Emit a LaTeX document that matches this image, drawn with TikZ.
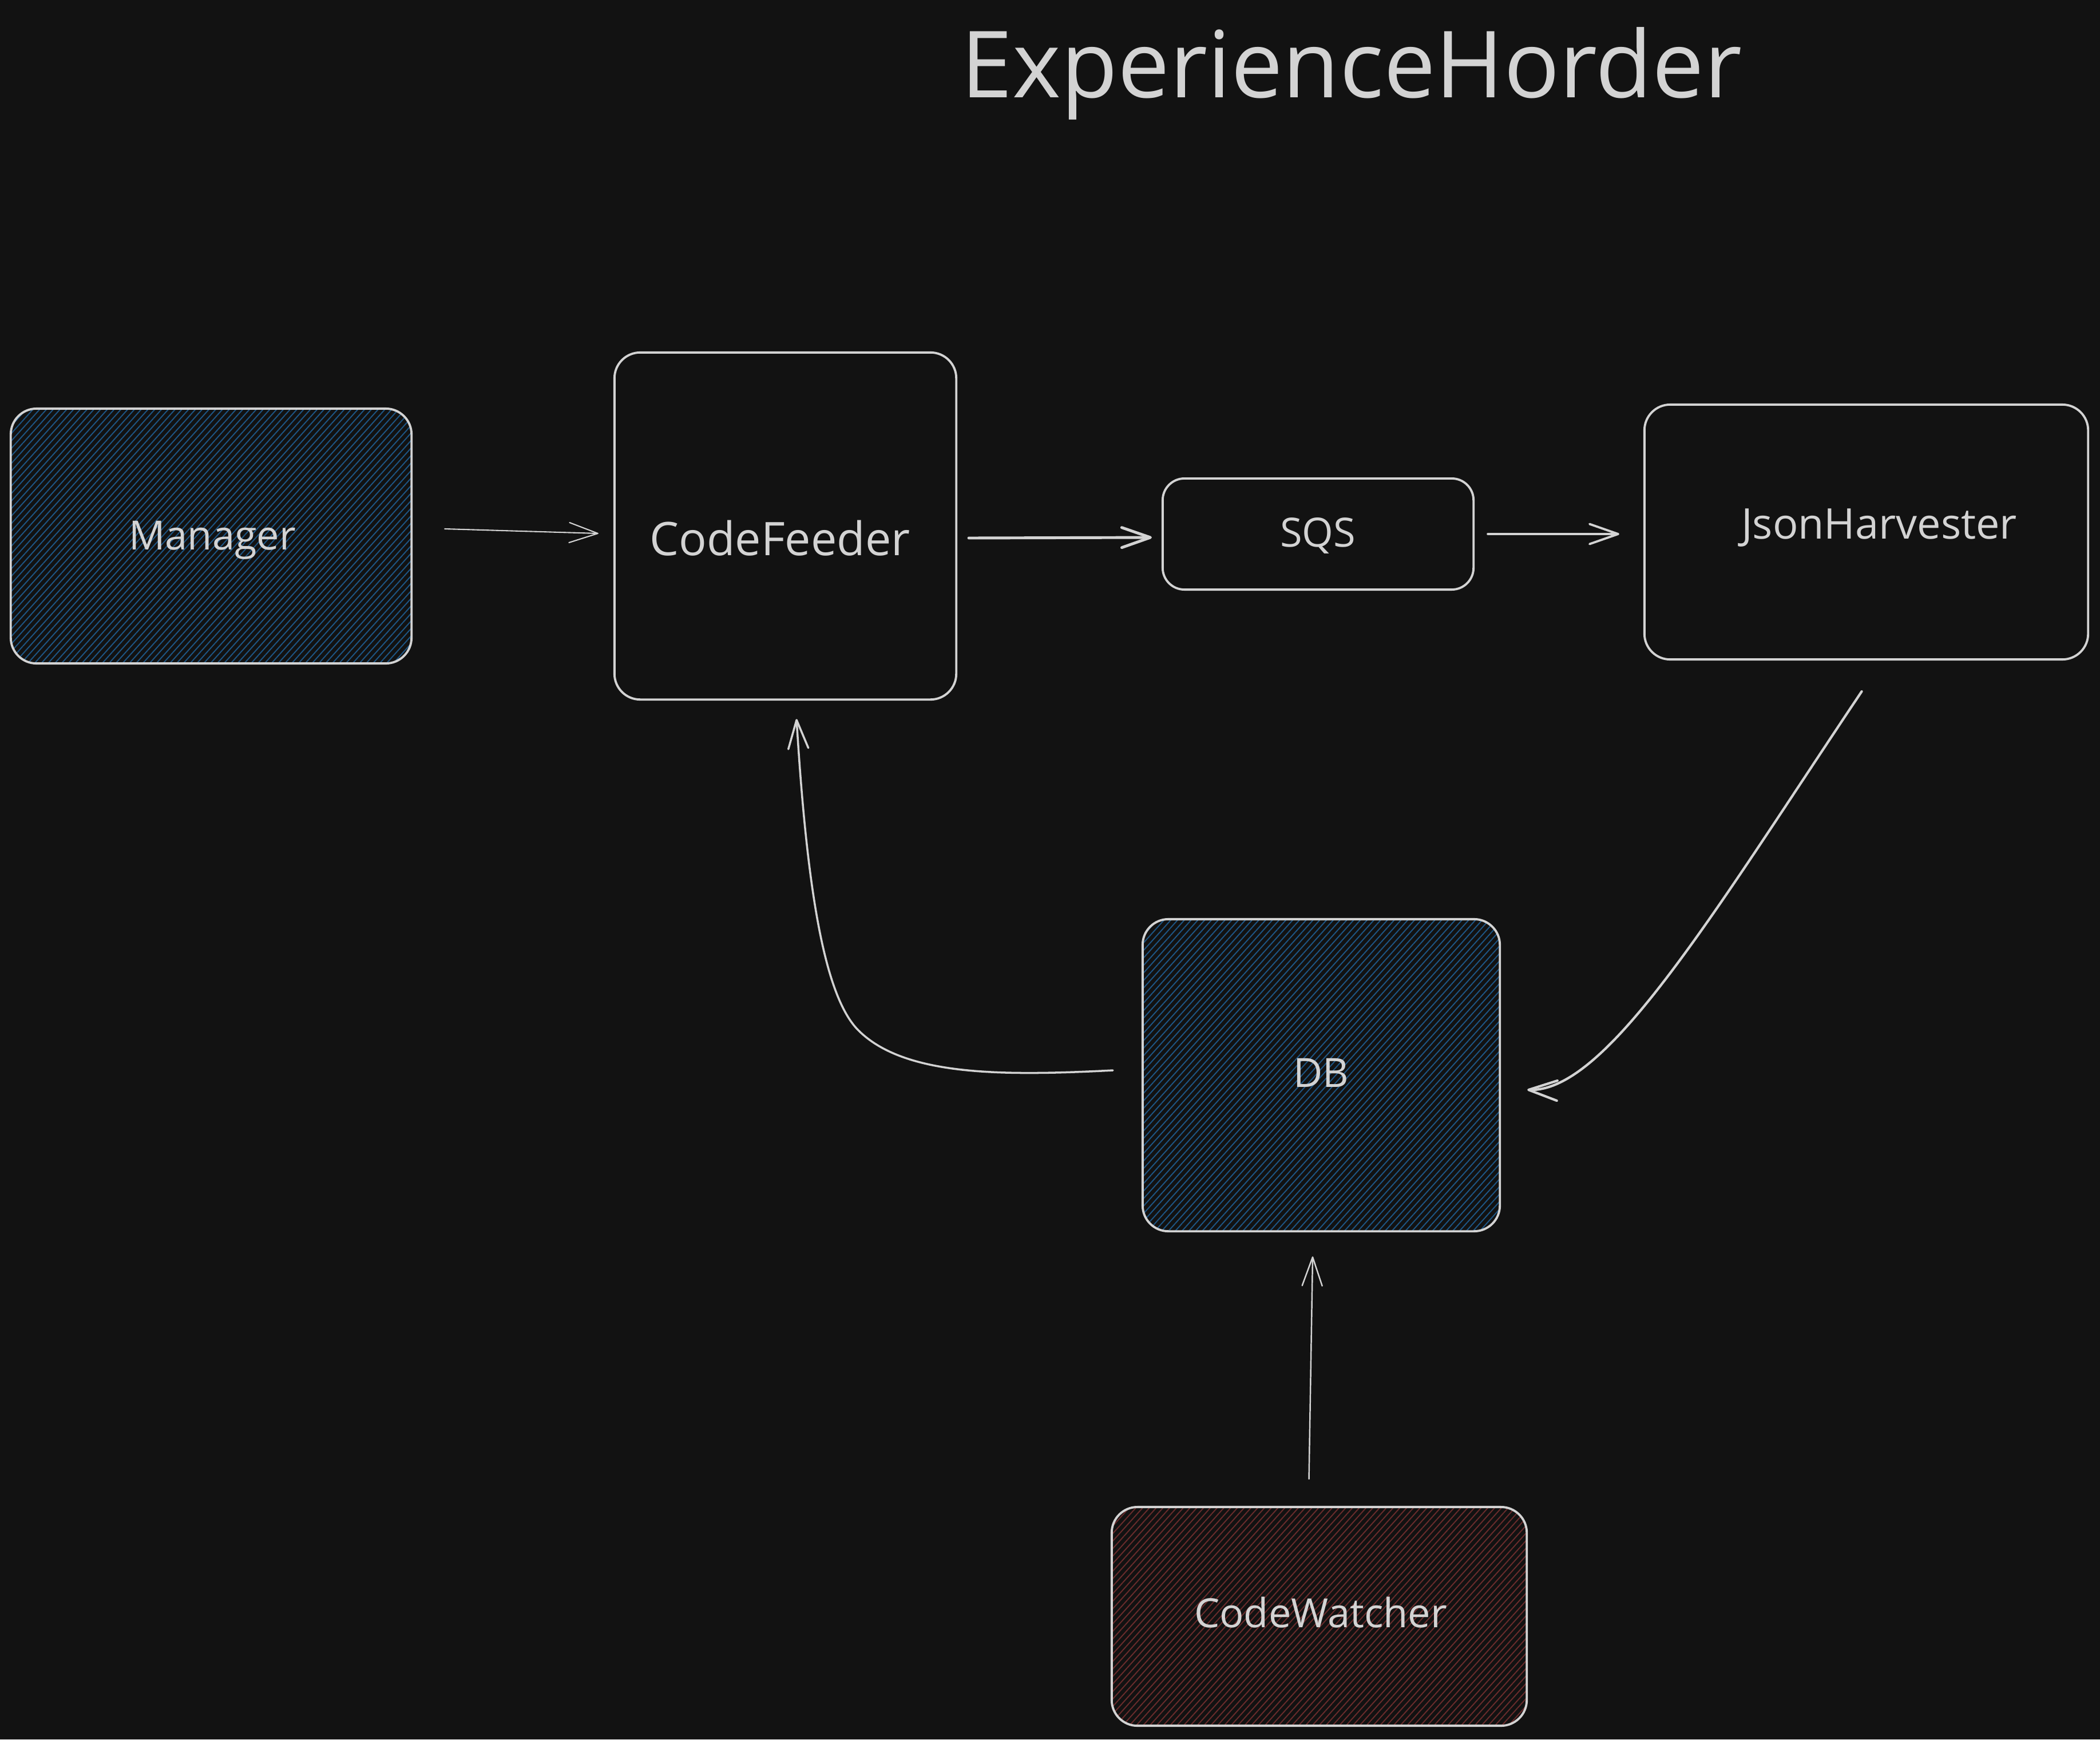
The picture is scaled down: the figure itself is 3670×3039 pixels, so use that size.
\documentclass[tikz,border=0pt]{standalone}
\usepackage{fontspec}
\setmainfont{Open Sans}
\usetikzlibrary{arrows.meta,patterns.meta,calc}
\definecolor{bg}{HTML}{121212}
\definecolor{ink}{HTML}{D3D3D3}
\definecolor{hblue}{HTML}{1E5685}
\definecolor{hred}{HTML}{6A2C2C}
\begin{document}
\begin{tikzpicture}[x=0.01cm,y=-0.01cm,
  box/.style={draw=ink, line width=1.1pt, rounded corners=0.45cm, inner sep=0pt},
  bluehatch/.style={pattern={Lines[angle=48,distance=2.5pt,line width=0.55pt]}, pattern color=hblue},
  redhatch/.style={pattern={Lines[angle=48,distance=2.5pt,line width=0.55pt]}, pattern color=hred},
  lbl/.style={text=ink, anchor=base, inner sep=0pt, font=\fontsize{20}{24}\selectfont},
  conn/.style={draw=ink, line width=1pt, line cap=round, line join=round,
    -{Straight Barb[length=0.5cm,width=0.35cm,line cap=round,line join=round]}},
]
\fill[bg] (0,0) rectangle (3670,3039);
\useasboundingbox (0,0) rectangle (3670,3039);

% title
\node[lbl, font=\fontsize{46}{52}\selectfont] (title) at (2362,170) {ExperienceHorder};

% boxes
\node[box, bluehatch, minimum width=7cm, minimum height=4.45cm] (mgr) at (369,936.5) {};
\node[box, minimum width=5.97cm, minimum height=6.06cm] (cf) at (1372.5,919) {};
\node[box, rounded corners=0.38cm, minimum width=5.43cm, minimum height=1.94cm] (sqs) at (2303.5,933) {};
\node[box, minimum width=7.75cm, minimum height=4.45cm] (jh) at (3261.5,929.5) {};
\node[box, bluehatch, minimum width=6.24cm, minimum height=5.45cm] (db) at (2309,1878.5) {};
\node[box, redhatch, minimum width=7.25cm, minimum height=3.82cm] (cw) at (2305.5,2824) {};

% labels
\node[lbl] (mgrT) at (371,960) {Manager};
\node[lbl, font=\fontsize{23}{27}\selectfont] (cfT) at (1363,970) {CodeFeeder};
\node[lbl] (sqsT) at (2303,955) {SQS};
\node[lbl, font=\fontsize{21}{25}\selectfont] (jhT) at (3284,941) {JsonHarvester};
\node[lbl] (dbT) at (2309,1899) {DB};
\node[lbl] (cwT) at (2308,2843) {CodeWatcher};

% connectors
\draw[conn, line width=0.6pt] ([shift={(57,-12.5)}]mgr.east) -- ([shift={(-26,13)}]cf.west);
\draw[conn, line width=1.4pt] ([shift={(20,21)}]cf.east) -- ([shift={(-17,6)}]sqs.west);
\draw[conn, line width=1.1pt] ([shift={(23,0)}]sqs.east) -- ([shift={(-42,3.5)}]jh.west);
\draw[conn, line width=1.2pt] ([shift={(-8,54)}]jh.south) .. controls (2996,1592) and (2809,1908) .. ([shift={(46,25.5)}]db.east);
\draw[conn, line width=1pt] ([shift={(-50,-8.5)}]db.west) .. controls (1750,1880) and (1580,1880) .. (1500,1800)
   .. controls (1440,1740) and (1410,1550) .. ([shift={(19.5,32)}]cf.south);
\draw[conn, line width=0.7pt] ([shift={(-18,-47)}]cw.north) -- ([shift={(-15,42)}]db.south);
\end{tikzpicture}
\end{document}
